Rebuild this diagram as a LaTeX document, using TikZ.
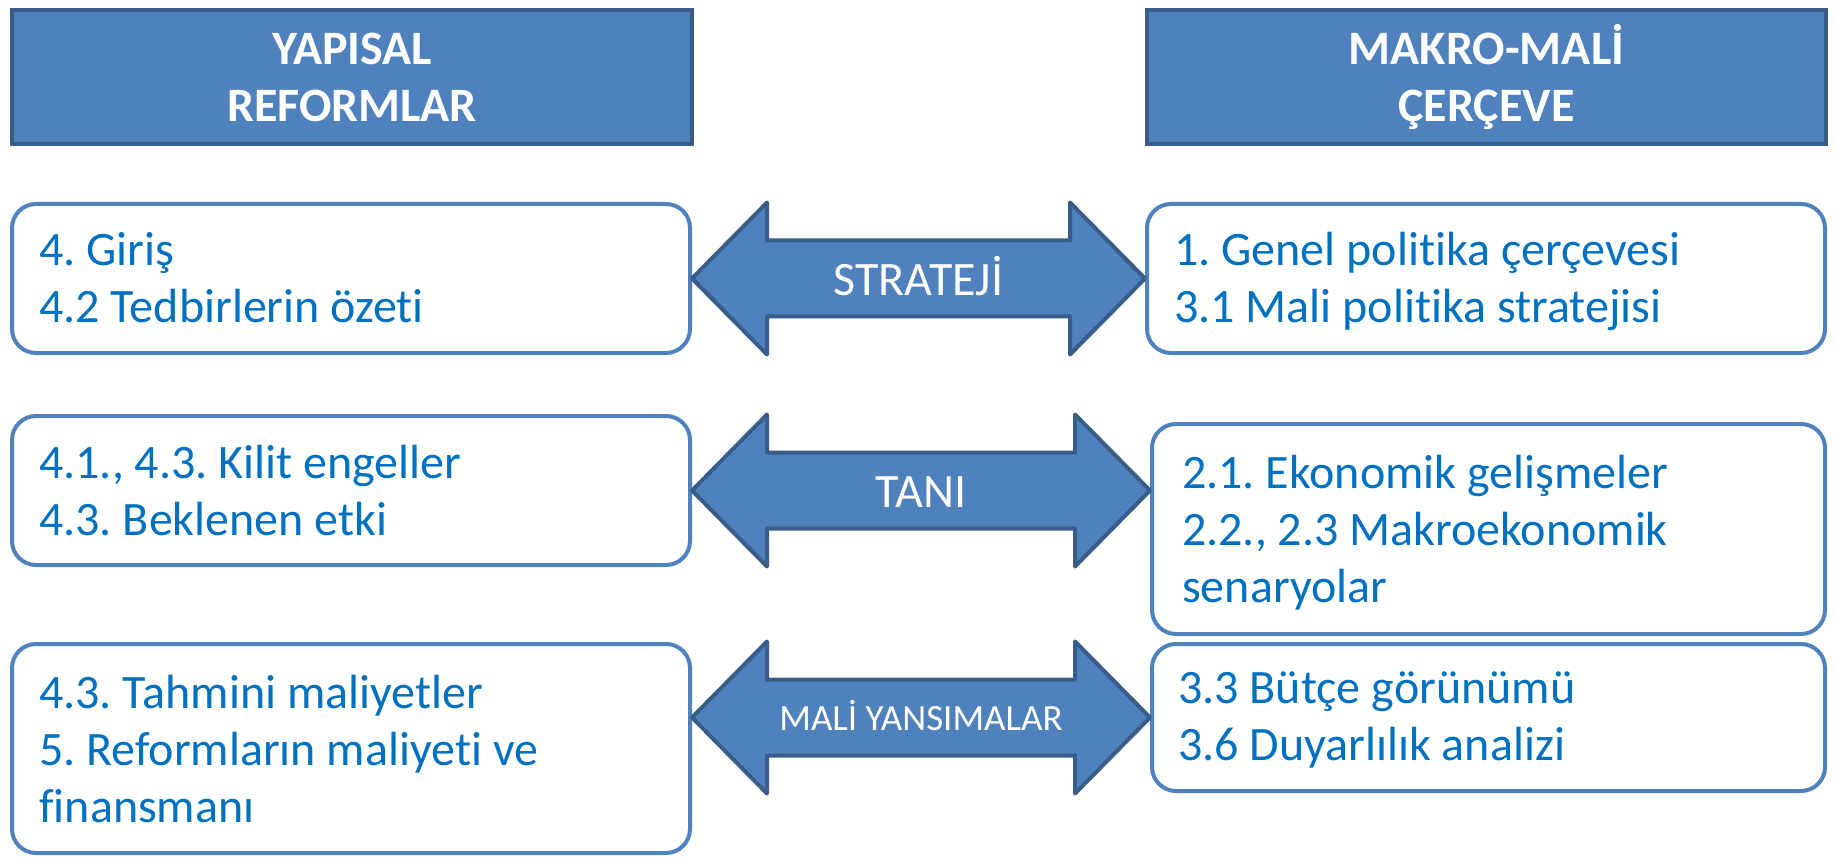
\documentclass[tikz,border=0pt]{standalone}
\usepackage{fontspec}
\setmainfont{Carlito}[Ligatures=NoCommon, RawFeature={-clig}]
\usetikzlibrary{calc}
\frenchspacing
\definecolor{hdrfill}{HTML}{4F81BD}
\definecolor{hdrline}{HTML}{385D8A}
\definecolor{boxline}{HTML}{4F81BD}
\definecolor{txtblue}{HTML}{0070C0}
\tikzset{
 header/.style={draw=hdrline, line width=4pt, fill=hdrfill, text=white, font=\frenchspacing\fontsize{48}{57}\selectfont\bfseries, align=center, inner sep=0pt},
 infobox/.style={draw=boxline, line width=4pt, rounded corners=24pt, fill=white, inner sep=0pt},
 boxtext/.style={text=txtblue, font=\frenchspacing\fontsize{48}{57}\selectfont, align=left, anchor=base west, inner sep=0pt},
 dblarrow/.style={draw=hdrline, line width=4pt, fill=hdrfill, line join=round},
 arrowlabel/.style={text=white, anchor=base, inner sep=0pt},
}
\newcommand\drawdbl[2]{%
 \draw[dblarrow] (#1) -- ++(75,-76) -- ++(0,38) -- ($(#2)+(-75,-38)$) -- ++(0,-38) -- (#2) -- ++(-75,76) -- ++(0,-38) -- ($(#1)+(75,38)$) -- ++(0,38) -- cycle;}
\begin{document}
\begin{tikzpicture}[x=1pt,y=-1pt]
\useasboundingbox (0,0) rectangle (1835,858);
% headers
\node[header, minimum width=680pt, minimum height=134pt] (lh) at (352,77) {YAPISAL\\REFORMLAR};
\node[header, minimum width=679pt, minimum height=134pt] (rh) at (1486.5,77) {MAKRO-MALİ\\ÇERÇEVE};
% boxes
\node[infobox, minimum width=678pt, minimum height=149pt] (lb1) at (351,278.5) {};
\node[infobox, minimum width=678pt, minimum height=149pt] (rb1) at (1486,278.5) {};
\node[infobox, minimum width=678pt, minimum height=149pt] (lb2) at (351,490.5) {};
\node[infobox, minimum width=673pt, minimum height=210pt] (rb2) at (1488.5,529) {};
\node[infobox, minimum width=678pt, minimum height=209pt] (lb3) at (351,748.5) {};
\node[infobox, minimum width=673pt, minimum height=147pt] (rb3) at (1488.5,717.5) {};
% texts (anchored at the baseline of the last line)
\node[boxtext] (tl1) at (39,323) {4. Giriş\\4.2 Tedbirlerin özeti};
\node[boxtext] (tr1) at (1174,323) {1. Genel politika çerçevesi\\3.1 Mali politika stratejisi};
\node[boxtext] (tl2) at (39,535) {4.1., 4.3. Kilit engeller\\4.3. Beklenen etki};
\node[boxtext] (tr2) at (1182,602) {2.1. Ekonomik gelişmeler\\2.2., 2.3 Makroekonomik\\senaryolar};
\node[boxtext] (tl3) at (39,822) {4.3. Tahmini maliyetler\\5. Reformların maliyeti ve\\finansmanı};
\node[boxtext] (tr3) at (1178,760) {3.3 Bütçe görünümü\\3.6 Duyarlılık analizi};
% arrows
\coordinate (t1l) at (lb1.east);
\coordinate (t1r) at (rb1.west |- lb1.east);
\coordinate (t2l) at (lb2.east);
\coordinate (t2r) at (rb2.west |- lb2.east);
\coordinate (t3l) at (lb3.east |- rb3.west);
\coordinate (t3r) at (rb3.west);
\drawdbl{t1l}{t1r}
\drawdbl{t2l}{t2r}
\drawdbl{t3l}{t3r}
\node[arrowlabel, font=\fontsize{48}{57}\selectfont] (a1) at ($(t1l)!0.5!(t1r)+(0,17)$) {STRATEJİ};
\node[arrowlabel, font=\fontsize{48}{57}\selectfont] (a2) at ($(t2l)!0.5!(t2r)+(0,17)$) {TANI};
\node[arrowlabel, font=\fontsize{37}{45}\selectfont] (a3) at ($(t3l)!0.5!(t3r)+(0,13)$) {MALİ YANSIMALAR};
\end{tikzpicture}
\end{document}
